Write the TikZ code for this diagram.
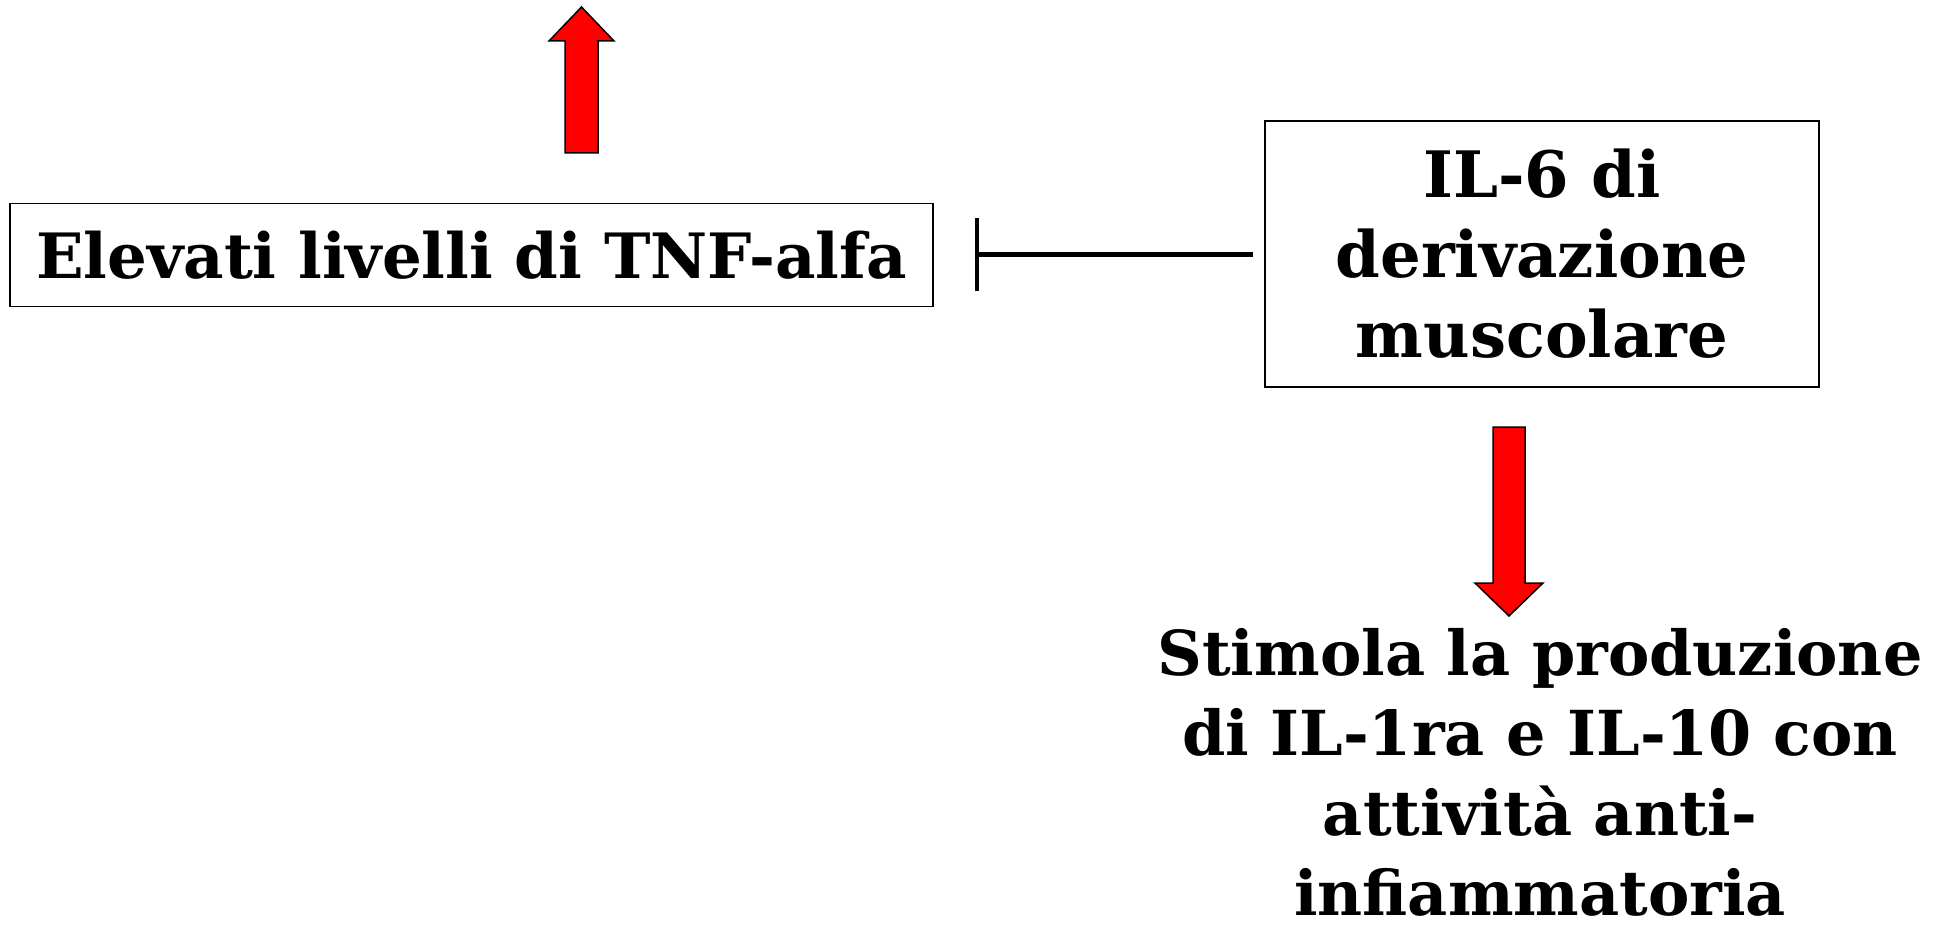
\documentclass[tikz,border=0pt]{standalone}
\usepackage{fontspec}
\setmainfont{DejaVu Serif}
\begin{document}
\begin{tikzpicture}[x=1pt,y=-1pt,
  box/.style={draw=black,line width=1.5pt,inner sep=0pt,align=center},
  lbl/.style={font=\bfseries\fontsize{64}{80}\selectfont,align=center,inner sep=0pt},
  blockarrow/.style={fill=red,draw=black,line width=1.5pt,line join=miter}]
\useasboundingbox (0,0) rectangle (1952,925);
% up arrow
\draw[blockarrow] (565,153) -- (565,41) -- (549,41) -- (581.5,7) -- (614,41) -- (598,41) -- (598,153) -- cycle;
% TNF box
\node[box,minimum width=923pt,minimum height=103pt,font=\bfseries\fontsize{62.5}{76}\selectfont] (tnf) at (471.5,255) {Elevati livelli di TNF-alfa};
% IL-6 box
\node[box,minimum width=554pt,minimum height=266pt] (il6) at (1542,254) {};
\node[lbl] (il6t) at (il6.center) {IL-6 di\\derivazione\\muscolare};
% inhibition
\coordinate (bartop) at (977,218);
\coordinate (barbot) at (977,291);
\coordinate (barmid) at (977,255);
\draw[line width=4pt] (bartop) -- (barbot);
\draw[line width=5pt,shorten <=11pt] (il6.west |- barmid) -- (barmid);
% down arrow
\draw[blockarrow] (1493,427) -- (1525,427) -- (1525,583) -- (1543,583) -- (1509,616) -- (1475,583) -- (1493,583) -- cycle;
% bottom text
\node[lbl,font=\bfseries\fontsize{62}{80}\selectfont] (stim) at (1540,772) {Stimola la produzione\\di IL-1ra e IL-10 con\\attività anti-\\infiammatoria};
\end{tikzpicture}
\end{document}
